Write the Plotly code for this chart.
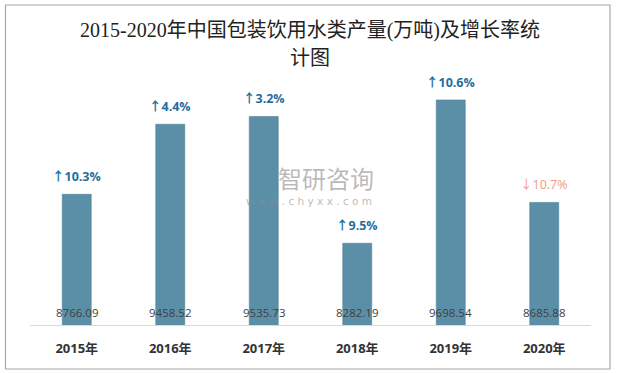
import plotly.graph_objects as go

years = ["2015年", "2016年", "2017年", "2018年", "2019年", "2020年"]
output = [8766.09, 9458.52, 9535.73, 8282.19, 9698.54, 8685.88]
growth = ["↑10.3%", "↑4.4%", "↑3.2%", "↑9.5%", "↑10.6%", "↓10.7%"]
growth_up = [True, True, True, True, True, False]
title_lines = ["2015-2020年中国包装饮用水类产量(万吨)及增长率统", "计图"]

y_min = 7474
y_max = 9896

fig = go.Figure()
fig.add_trace(go.Bar(
    x=years, y=output,
    marker=dict(color="#5B8FA8", line=dict(color="#4F7F96", width=0.6)),
    hoverinfo="x+y",
))

L, R, T, B = 30, 28, 80, 48
W, H = 619, 373
pw, ph = W - L - R, H - T - B

def px(xp):
    return (xp - L) / pw

def py(yp):
    return (H - B - yp) / ph

annotations = []
for yr, v, g, up in zip(years, output, growth, growth_up):
    annotations.append(dict(
        x=yr, y=v, xref="x", yref="y", text=g, showarrow=False,
        yanchor="middle", yshift=17.5,
        font=dict(family="Open Sans, Noto Sans CJK SC, sans-serif", size=12.5,
                  color="#1F6F9F" if up else "#F29A7C",
                  weight="bold" if up else "normal"),
    ))
    annotations.append(dict(
        x=yr, y=y_min, xref="x", yref="y", text=f"{v:.2f}", showarrow=False,
        yanchor="middle", yshift=13,
        font=dict(family="Open Sans, Noto Sans, sans-serif", size=11.5, color="#404040"),
    ))

# title lines
for txt, yp in zip(title_lines, [30, 58]):
    annotations.append(dict(
        x=px(310), y=py(yp), xref="paper", yref="paper", text=txt, showarrow=False,
        xanchor="center", yanchor="middle",
        font=dict(family="Liberation Serif, Noto Sans CJK SC, serif", size=20,
                  color="#222222"),
    ))

# watermark
annotations.append(dict(
    x=px(326), y=py(177), xref="paper", yref="paper", text="智研咨询", showarrow=False,
    font=dict(family="Noto Sans CJK SC", size=24, color="rgba(140,140,140,0.6)"),
))
annotations.append(dict(
    x=px(309), y=py(201), xref="paper", yref="paper", text="w w w . c h y x x . c o m",
    showarrow=False,
    font=dict(family="DejaVu Sans", size=10.5, color="rgba(140,140,140,0.6)"),
))

fig.update_layout(
    width=W, height=H,
    margin=dict(l=L, r=R, t=T, b=B),
    paper_bgcolor="white", plot_bgcolor="white",
    bargap=0.69,
    showlegend=False,
    xaxis=dict(
        showline=True, linecolor="#D9D9D9", linewidth=1,
        showgrid=False, ticks="", ticklabelstandoff=11,
        tickfont=dict(family="Open Sans, Noto Sans CJK SC, sans-serif", size=13,
                      color="#333333", weight="bold"),
        fixedrange=True,
    ),
    yaxis=dict(range=[y_min, y_max], visible=False, fixedrange=True),
    annotations=annotations,
    shapes=[dict(
        type="rect", xref="paper", yref="paper",
        x0=px(5.5), x1=px(610), y0=py(369), y1=py(5),
        line=dict(color="#A6A6A6", width=1.2), fillcolor="rgba(0,0,0,0)", layer="below",
    )],
)

fig.write_html("out.html", config={"displayModeBar": False},
               post_script="document.body.style.margin='0';")
